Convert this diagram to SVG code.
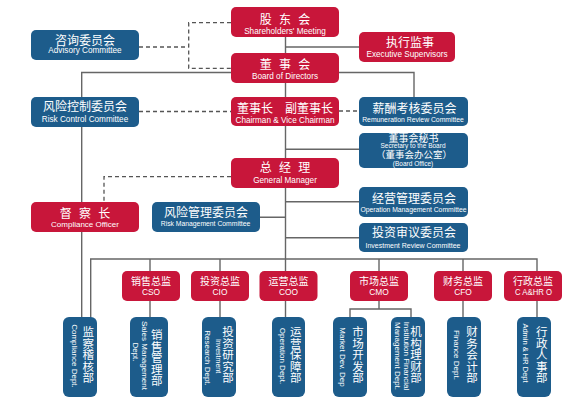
<svg xmlns="http://www.w3.org/2000/svg" width="570" height="403" viewBox="0 0 570 403">
<style>
.r{fill:#c8163a}
.b{fill:#1d5c8b}
.ln{stroke:#666;stroke-width:1.4;fill:none}
.dl{stroke:#555;stroke-width:1.3;stroke-dasharray:4 3;fill:none}
text{fill:#fff;font-family:"Liberation Sans","Noto Sans CJK SC",sans-serif;text-anchor:middle}
.cn{font-size:12px}
.sp{font-size:12px;letter-spacing:2px}
.en{font-size:8.2px}
.es{font-size:6.8px}
.dc{font-size:10px}
.de{font-size:8.4px}
.vc{font-size:11.5px}
.ve{font-size:8px}
</style>
<rect width="570" height="403" fill="#fff"/>
<g id="connectors">
<path class="ln" d="M285.5 37V271M285.5 301V317"/>
<path class="ln" d="M285.5 47H359"/>
<path class="ln" d="M231 72.5H81.7V317"/>
<path class="ln" d="M339 72.5H414V97"/>
<path class="ln" d="M285.5 149.3H359M285.5 201.7H359M285.5 237.7H359M260 217.3H285.5"/>
<path class="ln" d="M90.7 317V259H537V271"/>
<path class="ln" d="M150 259V271M220 259V271M379 259V271M463 259V271"/>
<path class="ln" d="M150 301V317M220 301V317M463 301V317M537 301V317"/>
<path class="ln" d="M379 301V309M350 317V309H411V317"/>
<path class="dl" d="M139 47H188.7M231 22.7H188.7V68.3H231"/>
<path class="dl" d="M139 111.5H231M339 111H359"/>
<path class="dl" d="M231 176.7H104V202"/>
</g>
<g id="shareholders"><rect class="r" x="231" y="7" width="108" height="30" rx="5"/><text class="sp" x="286" y="23.5">股 东 会</text><text class="en" x="285" y="34">Shareholders' Meeting</text></g>
<g id="board"><rect class="r" x="231" y="53" width="108" height="30" rx="5"/><text class="sp" x="286" y="69">董 事 会</text><text class="en" x="285" y="78.5">Board of Directors</text></g>
<g id="chairman"><rect class="r" x="231" y="97" width="108" height="29" rx="5"/><text class="cn" x="285" y="112.5">董事长　副董事长</text><text class="en" x="285" y="123">Chairman &amp; Vice Chairman</text></g>
<g id="gm"><rect class="r" x="231" y="158" width="108" height="30" rx="5"/><text class="sp" x="286" y="172">总 经 理</text><text class="en" x="285" y="183">General Manager</text></g>
<g id="supervisors"><rect class="r" x="359" y="32" width="96" height="30" rx="5"/><text class="cn" x="410" y="46.5">执行监事</text><text class="en" x="407" y="57">Executive Supervisors</text></g>
<g id="advisory"><rect class="b" x="31" y="30" width="108" height="30" rx="5"/><text class="cn" x="85" y="44.5">咨询委员会</text><text class="en" x="85" y="53">Advisory Committee</text></g>
<g id="riskcontrol"><rect class="b" x="31" y="97" width="108" height="30" rx="5"/><text class="cn" x="85" y="111">风险控制委员会</text><text class="en" x="85" y="121.5">Risk Control Committee</text></g>
<g id="remuneration"><rect class="b" x="359" y="97" width="109" height="29" rx="5"/><text class="cn" x="414.5" y="112.5">薪酬考核委员会</text><text class="es" x="413" y="121.5">Remuneration Review Committee</text></g>
<g id="secretary"><rect class="b" x="359" y="133" width="109" height="35" rx="5"/><text x="413.5" y="141.5" font-size="10">董事会秘书</text><text x="413" y="148" font-size="6.5">Secretary to the Board</text><text x="414" y="157.5" font-size="9.5">（董事会办公室）</text><text x="413" y="165.5" font-size="6.5">(Board Office)</text></g>
<g id="opmgmt"><rect class="b" x="359" y="187" width="109" height="30" rx="5"/><text class="cn" x="414" y="203">经营管理委员会</text><text class="es" x="413.5" y="211.5">Operation Management Committee</text></g>
<g id="invreview"><rect class="b" x="359" y="223" width="109" height="29" rx="5"/><text class="cn" x="414" y="237">投资审议委员会</text><text x="413" y="247.5" font-size="7">Investment Review Committee</text></g>
<g id="riskmgmt"><rect class="b" x="152" y="202" width="108" height="30" rx="5"/><text class="cn" x="206" y="216.5">风险管理委员会</text><text class="es" x="205.5" y="226">Risk Management Committee</text></g>
<g id="compliance"><rect class="r" x="31" y="202" width="108" height="30" rx="5"/><text class="sp" x="86" y="217.5">督 察 长</text><text x="85" y="227" font-size="8">Compliance Officer</text></g>
<g id="cso"><rect class="r" x="122" y="271" width="58" height="30" rx="5"/><text class="dc" x="151" y="285">销售总监</text><text class="de" x="151" y="294.5">CSO</text></g>
<g id="cio"><rect class="r" x="191" y="271" width="58" height="30" rx="5"/><text class="dc" x="220" y="285">投资总监</text><text class="de" x="220" y="294.5">CIO</text></g>
<g id="coo"><rect class="r" x="259.5" y="271" width="58" height="30" rx="5"/><text class="dc" x="288.5" y="285">运营总监</text><text class="de" x="288.5" y="294.5">COO</text></g>
<g id="cmo"><rect class="r" x="350" y="271" width="58" height="30" rx="5"/><text class="dc" x="379" y="285">市场总监</text><text class="de" x="379" y="294.5">CMO</text></g>
<g id="cfo"><rect class="r" x="434" y="271" width="58" height="30" rx="5"/><text class="dc" x="463" y="285">财务总监</text><text class="de" x="463" y="294.5">CFO</text></g>
<g id="cahro"><rect class="r" x="504" y="271" width="58" height="30" rx="5"/><text class="dc" x="533" y="285">行政总监</text><text class="de" x="533.5" y="294.5" textLength="37" lengthAdjust="spacingAndGlyphs">C A&amp;HR O</text></g>
<g id="dept-compliance"><rect class="b" x="63" y="317" width="34" height="80" rx="6"/><text class="ve" transform="translate(71.6 356) rotate(90)">Compliance Dept.</text><text class="vc"><tspan x="88.3" y="336">监</tspan><tspan x="88.3" y="347.6">察</tspan><tspan x="88.3" y="359.2">稽</tspan><tspan x="88.3" y="370.8">核</tspan><tspan x="88.3" y="382.4">部</tspan></text></g>
<g id="dept-sales"><rect class="b" x="130" y="317" width="38" height="80" rx="6"/><text class="ve" transform="translate(141.6 355.5) rotate(90)">Sales Management</text><text class="ve" transform="translate(132.9 352) rotate(90)">Dept.</text><text class="vc"><tspan x="156.7" y="339">销</tspan><tspan x="156.7" y="350.6">售</tspan><tspan x="156.7" y="362.2">管</tspan><tspan x="156.7" y="373.8">理</tspan><tspan x="156.7" y="385.4">部</tspan></text></g>
<g id="dept-research"><rect class="b" x="202" y="317" width="34" height="80" rx="6"/><text transform="translate(215.5 356) rotate(90)" font-size="7">Investment</text><text class="ve" transform="translate(205.4 358) rotate(90)">Research Dept.</text><text class="vc"><tspan x="228" y="336">投</tspan><tspan x="228" y="347.6">资</tspan><tspan x="228" y="359.2">研</tspan><tspan x="228" y="370.8">究</tspan><tspan x="228" y="382.4">部</tspan></text></g>
<g id="dept-operation"><rect class="b" x="272" y="317" width="33" height="80" rx="6"/><text class="ve" transform="translate(280 356) rotate(90)">Operation Dept.</text><text class="vc"><tspan x="295.7" y="336">运</tspan><tspan x="295.7" y="347.6">营</tspan><tspan x="295.7" y="359.2">保</tspan><tspan x="295.7" y="370.8">障</tspan><tspan x="295.7" y="382.4">部</tspan></text></g>
<g id="dept-market"><rect class="b" x="333" y="317" width="34" height="80" rx="6"/><text class="ve" transform="translate(340 357) rotate(90)">Market Dev. Dep</text><text class="vc"><tspan x="358" y="336">市</tspan><tspan x="358" y="347.6">场</tspan><tspan x="358" y="359.2">开</tspan><tspan x="358" y="370.8">发</tspan><tspan x="358" y="382.4">部</tspan></text></g>
<g id="dept-institution"><rect class="b" x="391" y="317" width="34" height="80" rx="6"/><text class="ve" transform="translate(404 356) rotate(90)">Institution Financial</text><text class="ve" transform="translate(395.4 356) rotate(90)">Management Dept.</text><text class="vc"><tspan x="416" y="336">机</tspan><tspan x="416" y="347.6">构</tspan><tspan x="416" y="359.2">理</tspan><tspan x="416" y="370.8">财</tspan><tspan x="416" y="382.4">部</tspan></text></g>
<g id="dept-finance"><rect class="b" x="447" y="317" width="34" height="80" rx="6"/><text class="ve" transform="translate(453.6 355) rotate(90)">Finance Dept.</text><text class="vc"><tspan x="472" y="336">财</tspan><tspan x="472" y="347.6">务</tspan><tspan x="472" y="359.2">会</tspan><tspan x="472" y="370.8">计</tspan><tspan x="472" y="382.4">部</tspan></text></g>
<g id="dept-admin"><rect class="b" x="517" y="317" width="34" height="80" rx="6"/><text transform="translate(523.3 353) rotate(90)" font-size="7.5">Admin &amp; HR Dept</text><text class="vc"><tspan x="541.7" y="336">行</tspan><tspan x="541.7" y="347.6">政</tspan><tspan x="541.7" y="359.2">人</tspan><tspan x="541.7" y="370.8">事</tspan><tspan x="541.7" y="382.4">部</tspan></text></g>
</svg>
